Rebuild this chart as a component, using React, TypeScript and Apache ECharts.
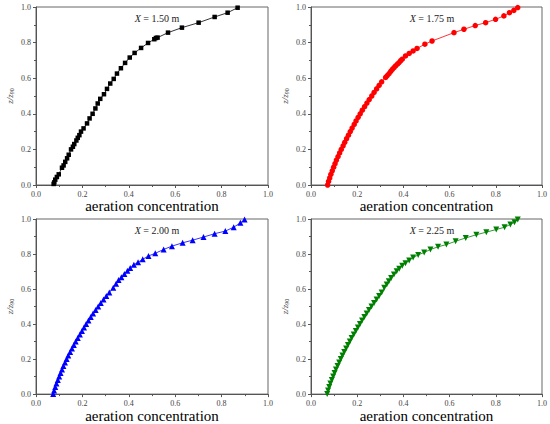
import React, { useEffect, useRef } from "react";
import * as echarts from "echarts";

const panelTitles = ["1.50", "1.75", "2.00", "2.25"];
const panelColors = ["#000000", "#ff0000", "#0000ff", "#008000"];

const p1Conc = [0.076, 0.079, 0.083, 0.090, 0.098, 0.112, 0.119, 0.126, 0.134, 0.141, 0.151, 0.159, 0.165, 0.174, 0.180, 0.187, 0.194, 0.205, 0.220, 0.231, 0.244, 0.256, 0.266, 0.277, 0.293, 0.306, 0.320, 0.335, 0.349, 0.366, 0.384, 0.404, 0.425, 0.453, 0.483, 0.510, 0.517, 0.524, 0.569, 0.629, 0.701, 0.770, 0.826, 0.869];
const p1Z = [0.006, 0.015, 0.030, 0.045, 0.060, 0.097, 0.110, 0.130, 0.150, 0.170, 0.200, 0.215, 0.230, 0.250, 0.265, 0.280, 0.300, 0.318, 0.346, 0.374, 0.400, 0.430, 0.458, 0.484, 0.510, 0.540, 0.570, 0.596, 0.626, 0.656, 0.686, 0.716, 0.742, 0.770, 0.798, 0.819, 0.826, 0.828, 0.856, 0.884, 0.912, 0.944, 0.968, 0.996];

const p2Conc = [0.072, 0.076, 0.081, 0.086, 0.092, 0.098, 0.104, 0.110, 0.117, 0.124, 0.131, 0.139, 0.146, 0.154, 0.162, 0.170, 0.178, 0.187, 0.195, 0.204, 0.213, 0.222, 0.232, 0.242, 0.252, 0.263, 0.273, 0.284, 0.295, 0.306, 0.323, 0.330, 0.338, 0.345, 0.352, 0.359, 0.366, 0.374, 0.381, 0.388, 0.395, 0.409, 0.425, 0.442, 0.459, 0.493, 0.524, 0.619, 0.662, 0.711, 0.756, 0.799, 0.835, 0.859, 0.878, 0.895];
const p2Z = [0.00, 0.02, 0.04, 0.06, 0.08, 0.10, 0.12, 0.14, 0.16, 0.18, 0.20, 0.22, 0.24, 0.26, 0.28, 0.30, 0.32, 0.34, 0.36, 0.38, 0.40, 0.42, 0.44, 0.46, 0.48, 0.50, 0.52, 0.54, 0.56, 0.58, 0.604, 0.615, 0.626, 0.638, 0.649, 0.659, 0.669, 0.679, 0.688, 0.698, 0.707, 0.725, 0.739, 0.753, 0.767, 0.791, 0.809, 0.856, 0.875, 0.896, 0.912, 0.931, 0.950, 0.968, 0.981, 0.997];

const p3Conc = [0.074, 0.078, 0.083, 0.088, 0.094, 0.100, 0.106, 0.112, 0.118, 0.125, 0.132, 0.139, 0.147, 0.155, 0.163, 0.171, 0.180, 0.189, 0.198, 0.207, 0.216, 0.226, 0.236, 0.246, 0.257, 0.268, 0.279, 0.291, 0.303, 0.316, 0.333, 0.345, 0.356, 0.368, 0.381, 0.394, 0.406, 0.422, 0.440, 0.460, 0.485, 0.514, 0.550, 0.586, 0.632, 0.675, 0.722, 0.770, 0.816, 0.852, 0.881, 0.899];
const p3Z = [0.00, 0.02, 0.04, 0.06, 0.08, 0.10, 0.12, 0.14, 0.16, 0.18, 0.20, 0.22, 0.24, 0.26, 0.28, 0.30, 0.32, 0.34, 0.36, 0.38, 0.40, 0.42, 0.44, 0.46, 0.48, 0.50, 0.52, 0.54, 0.56, 0.58, 0.607, 0.630, 0.651, 0.667, 0.686, 0.705, 0.720, 0.739, 0.753, 0.770, 0.789, 0.804, 0.826, 0.845, 0.864, 0.879, 0.897, 0.916, 0.931, 0.953, 0.978, 0.997];

const p4Conc = [0.070, 0.074, 0.079, 0.084, 0.090, 0.096, 0.102, 0.108, 0.115, 0.122, 0.129, 0.136, 0.144, 0.152, 0.160, 0.168, 0.176, 0.185, 0.194, 0.203, 0.212, 0.221, 0.231, 0.241, 0.251, 0.262, 0.273, 0.284, 0.295, 0.306, 0.317, 0.328, 0.337, 0.347, 0.359, 0.371, 0.382, 0.395, 0.409, 0.425, 0.442, 0.464, 0.490, 0.517, 0.550, 0.586, 0.626, 0.670, 0.716, 0.759, 0.802, 0.838, 0.863, 0.881, 0.895];
const p4Z = [0.00, 0.02, 0.04, 0.06, 0.08, 0.10, 0.12, 0.14, 0.16, 0.18, 0.20, 0.22, 0.24, 0.26, 0.28, 0.30, 0.32, 0.34, 0.36, 0.38, 0.40, 0.42, 0.44, 0.46, 0.48, 0.50, 0.52, 0.54, 0.56, 0.58, 0.607, 0.626, 0.645, 0.663, 0.683, 0.701, 0.716, 0.733, 0.748, 0.763, 0.780, 0.795, 0.809, 0.826, 0.841, 0.854, 0.873, 0.892, 0.910, 0.925, 0.940, 0.953, 0.969, 0.981, 0.997];

const axisTicks = [0, 0.2, 0.4, 0.6, 0.8, 1.0];

const concs = [p1Conc, p2Conc, p3Conc, p4Conc];
const zs = [p1Z, p2Z, p3Z, p4Z];
const symbols = ["rect", "circle", "triangle", "triangle"];
const symbolSizes = [4.5, 5.5, 6, 6];
const symbolRotates = [0, 0, 0, 180];

const FONT = "Liberation Serif, serif";

export default function App() {
  const ref = useRef<HTMLDivElement>(null);
  useEffect(() => {
    if (!ref.current) return;
    const chart = echarts.init(ref.current, null, { renderer: "svg" });
    const lefts = [36, 311, 36, 311];
    const tops = [7, 7, 219, 219];
    const W = 232;
    const H = 178;
    const grids = lefts.map((l, i) => ({
      left: l,
      top: tops[i],
      width: W,
      height: H,
      show: true,
      borderColor: "#666",
      borderWidth: 1,
      backgroundColor: "transparent",
    }));
    const mkAxis = (i: number) => ({
      type: "value",
      gridIndex: i,
      min: 0,
      max: 1,
      interval: 0.2,
      axisLine: { show: true, lineStyle: { color: "#555", width: 1 } },
      axisTick: { show: true, inside: false, length: 3, lineStyle: { color: "#555" } },
      minorTick: { show: true, splitNumber: 2, length: 2, lineStyle: { color: "#555" } },
      splitLine: { show: false },
      axisLabel: {
        margin: 5,
        formatter: (v: number) => (axisTicks.some((t) => Math.abs(t - v) < 1e-9) ? "{t|" + v.toFixed(1) + "}" : ""),
        rich: { t: { fontFamily: FONT, fontSize: 8, color: "#444" } },
      },
    });
    const xAxes = lefts.map((_, i) => ({
      ...mkAxis(i),
      name: "{n|aeration concentration}",
      nameLocation: "middle",
      nameGap: 12,
      nameTextStyle: { rich: { n: { fontFamily: FONT, fontSize: 15, color: "#000" } } },
    }));
    const yAxes = lefts.map((_, i) => ({
      ...mkAxis(i),
      name: "{a|z/z}{b|90}",
      nameLocation: "middle",
      nameGap: 21,
      nameRotate: 90,
      nameTextStyle: {
        rich: {
          a: { fontFamily: FONT, fontStyle: "italic", fontSize: 9, color: "#333" },
          b: { fontFamily: FONT, fontSize: 6, color: "#333", verticalAlign: "bottom", padding: [5, 0, 0, 0] },
        },
      },
    }));
    const titles = panelTitles.map((t, i) => ({
      text: "{i|X}{r| = " + t + " m}",
      left: lefts[i] + W / 2,
      top: tops[i] + 1,
      textAlign: "center",
      textStyle: {
        fontWeight: "normal",
        rich: {
          i: { fontFamily: FONT, fontStyle: "italic", fontWeight: "normal", fontSize: 10, color: "#222" },
          r: { fontFamily: FONT, fontWeight: "normal", fontSize: 10, color: "#222" },
        },
      },
    }));
    const series = concs.map((c, i) => ({
      type: "line",
      xAxisIndex: i,
      yAxisIndex: i,
      data: c.map((x, k) => [x, zs[i][k]]),
      symbol: symbols[i],
      symbolSize: symbolSizes[i],
      symbolRotate: symbolRotates[i],
      showSymbol: true,
      lineStyle: { color: panelColors[i], width: 0.8 },
      itemStyle: { color: panelColors[i] },
      clip: false,
    }));
    chart.setOption({
      animation: false,
      backgroundColor: "#fff",
      textStyle: { fontFamily: FONT },
      title: titles,
      grid: grids,
      xAxis: xAxes,
      yAxis: yAxes,
      series,
    });
    return () => chart.dispose();
  }, []);
  return (
    <div
      ref={ref}
      style={{ position: "fixed", left: 0, top: 0, width: 550, height: 424, background: "#fff" }}
    />
  );
}
